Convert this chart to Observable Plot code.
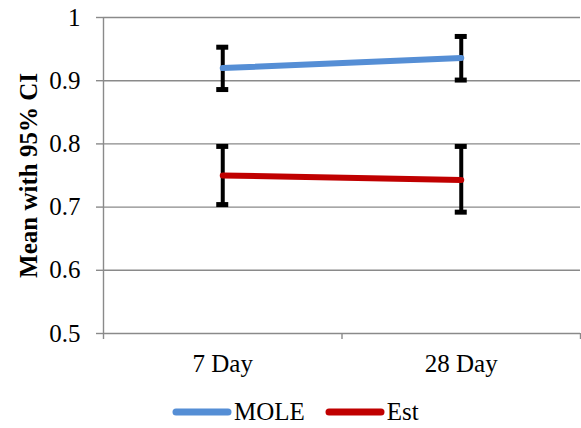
<!DOCTYPE html>
<html><head><meta charset="utf-8">
<script src="https://cdn.jsdelivr.net/npm/d3@7"></script>
<script src="https://cdn.jsdelivr.net/npm/@observablehq/plot@0.6"></script>
<style>
body{margin:0;background:#fff;font-family:"Liberation Serif","Times New Roman",serif;}
#chart svg{display:block}
#legend{display:flex;justify-content:flex-start;align-items:center;height:33px;padding-left:172px;font-size:25px;color:#000;font-family:"Liberation Serif","Times New Roman",serif;}
.item{display:flex;align-items:center;}
.item + .item{margin-left:20px}
.item svg{margin-right:2px}
</style></head><body>
<div id="chart"></div>
<div id="legend"></div>
<script>
const days = ["7 Day", "28 Day"];
const seriesNames = ["MOLE", "Est"];
const moleMean = [0.920, 0.936];
const moleLow  = [0.886, 0.901];
const moleHigh = [0.953, 0.970];
const estMean  = [0.750, 0.743];
const estLow   = [0.704, 0.692];
const estHigh  = [0.796, 0.796];
const yTicks = [0.5, 0.6, 0.7, 0.8, 0.9, 1];
const yTickLabels = ["0.5", "0.6", "0.7", "0.8", "0.9", "1"];
const colors = ["#558ED5", "#C00000"];

const seriesData = [
  {name: seriesNames[0], mean: moleMean, lo: moleLow, hi: moleHigh},
  {name: seriesNames[1], mean: estMean, lo: estLow, hi: estHigh}
];
const rows = [];
seriesData.forEach(s => days.forEach((d, i) => rows.push({series: s.name, day: d, xi: i + 0.5, mean: s.mean[i], lo: s.lo[i], hi: s.hi[i]})));
const dayRows = days.map((d, i) => ({day: d, xi: i + 0.5}));
const tickRows = yTicks.map((v, i) => ({v, label: yTickLabels[i]}));
const boundaries = d3.range(days.length + 1);

const W = 581, H = 395;
const font = "'Liberation Serif', 'Times New Roman', serif";
const chart = Plot.plot({
  width: W, height: H,
  marginLeft: 103, marginRight: 1, marginTop: 17, marginBottom: H - 333,
  style: {fontFamily: font, fontSize: "25px", color: "#000", background: "#fff"},
  x: {domain: [0, days.length], axis: null},
  y: {domain: [0.5, 1], axis: null},
  color: {domain: seriesNames, range: colors},
  marks: [
    Plot.ruleY(yTicks.slice(1), {stroke: "#8a8a8a", strokeWidth: 1.4}),
    Plot.ruleY([0.5], {stroke: "#8a8a8a", strokeWidth: 1.4}),
    Plot.ruleX([0], {stroke: "#8a8a8a", strokeWidth: 1.4}),
    Plot.axisY({ticks: yTicks, tickSize: 7, tickFormat: () => "", stroke: "#8a8a8a", strokeWidth: 1.4, label: null}),
    Plot.axisX({ticks: boundaries, tickSize: 6, tickFormat: () => "", stroke: "#8a8a8a", strokeWidth: 1.4, label: null}),
    Plot.text(tickRows, {x: () => 0, y: "v", text: "label", textAnchor: "end", dx: -23, fontSize: 25, fontFamily: font, fill: "#000"}),
    Plot.text(dayRows, {x: "xi", y: () => 0.5, text: "day", dy: 30, fontSize: 25, fontFamily: font, fill: "#000"}),
    Plot.text(["Mean with 95% CI"], {frameAnchor: "left", rotate: -90, dx: -75, textAnchor: "middle", fontWeight: "bold", fontSize: 25, fontFamily: font, fill: "#000"}),
    Plot.ruleX(rows, {x: "xi", y1: "lo", y2: "hi", stroke: "#000", strokeWidth: 4}),
    Plot.ruleY(rows, {x1: "xi", x2: "xi", y: "lo", stroke: "#000", strokeWidth: 5, insetLeft: -6, insetRight: -6}),
    Plot.ruleY(rows, {x1: "xi", x2: "xi", y: "hi", stroke: "#000", strokeWidth: 5, insetLeft: -6, insetRight: -6}),
    Plot.line(rows, {x: "xi", y: "mean", z: "series", stroke: "series", strokeWidth: 6, strokeLinecap: "round"})
  ]
});
document.getElementById("chart").appendChild(chart);

const legend = document.getElementById("legend");
seriesNames.forEach((n, i) => {
  const item = document.createElement("div");
  item.className = "item";
  item.innerHTML = `<svg width="60" height="12"><line x1="4" y1="6" x2="56" y2="6" stroke="${colors[i]}" stroke-width="7" stroke-linecap="round"/></svg><span>${n}</span>`;
  legend.appendChild(item);
});
</script>
</body></html>
